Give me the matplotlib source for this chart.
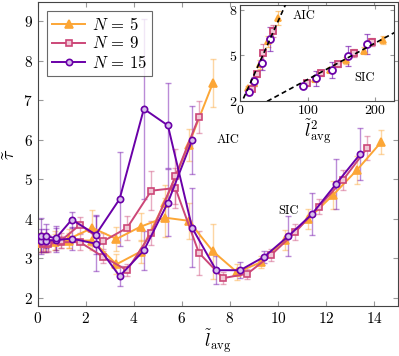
import numpy as np
import matplotlib
matplotlib.use("Agg")
import matplotlib.pyplot as plt

plt.rcParams["font.family"] = "serif"
plt.rcParams["font.serif"] = ["cmr10", "DejaVu Serif"]
plt.rcParams["mathtext.fontset"] = "cm"
plt.rcParams["axes.formatter.use_mathtext"] = True

c5, c9, c15 = "#fca636", "#cc4778", "#6a00a8"
f5, f9, f15 = "#fca636", "#f0c8d6", "#d8c2ea"  # marker fills

# ---- main panel data (l_avg, tau) ----
x5_aic = [0.10, 0.30, 0.72, 1.32, 2.28, 3.28, 4.28, 5.28, 6.28, 7.29]
y5_aic = [3.40, 3.40, 3.42, 3.45, 3.45, 2.85, 3.17, 4.40, 5.87, 7.43]
e5_aic = [0.25, 0.25, 0.20, 0.20, 0.25, 0.25, 0.30, 0.45, 0.40, 0.60]
x5_sic = [0.10, 0.30, 0.72, 1.32, 2.28, 3.28, 4.28, 5.28, 6.28, 7.29, 8.30, 9.29, 10.29, 11.27, 12.31, 13.30, 14.30]
y5_sic = [3.40, 3.40, 3.45, 3.50, 3.77, 3.49, 3.80, 4.03, 3.95, 3.18, 2.65, 2.90, 3.47, 4.00, 4.61, 5.24, 5.94]
e5_sic = [0.25, 0.25, 0.25, 0.25, 0.45, 0.30, 0.35, 0.50, 0.45, 0.70, 0.20, 0.15, 0.25, 0.25, 0.35, 0.35, 0.30]

x9_aic = [0.20, 0.41, 0.97, 1.76, 2.72, 3.72, 4.73, 5.73, 6.71]
y9_aic = [3.36, 3.36, 3.41, 3.41, 3.04, 2.70, 3.64, 5.07, 6.57]
e9_aic = [0.20, 0.20, 0.15, 0.20, 0.15, 0.15, 0.30, 0.70, 0.40]
x9_sic = [0.20, 0.41, 0.97, 1.76, 2.72, 3.72, 4.73, 5.73, 6.71, 7.72, 8.73, 9.73, 10.72, 11.71, 12.72, 13.72]
y9_sic = [3.39, 3.39, 3.45, 3.85, 3.43, 3.77, 4.71, 4.78, 3.14, 2.50, 2.61, 3.09, 3.66, 4.31, 4.99, 5.79]
e9_sic = [0.20, 0.20, 0.20, 0.20, 0.20, 0.30, 0.50, 0.50, 0.55, 0.15, 0.12, 0.15, 0.20, 0.20, 0.25, 0.30]

x15_aic = [0.12, 0.33, 0.76, 1.42, 2.42, 3.41, 4.42, 5.42, 6.43]
y15_aic = [3.45, 3.45, 3.46, 3.50, 3.37, 2.55, 3.20, 4.41, 5.99]
e15_aic = [0.30, 0.30, 0.30, 0.30, 0.70, 0.25, 0.50, 0.85, 0.86]
x15_sic = [0.12, 0.33, 0.76, 1.42, 2.42, 3.41, 4.42, 5.42, 6.43, 7.43, 8.43, 9.43, 10.43, 11.42, 12.42, 13.43]
y15_sic = [3.56, 3.56, 3.51, 3.98, 3.60, 4.50, 6.78, 6.36, 3.77, 2.70, 2.70, 3.04, 3.56, 4.12, 4.88, 5.64]
e15_sic = [0.45, 0.30, 0.30, 0.20, 0.50, 1.18, 2.27, 1.07, 1.00, 0.35, 0.20, 0.15, 0.50, 0.53, 0.64, 0.65]

# ---- inset data (l^2_avg, tau) ----
i5_x = [12, 20, 30, 42, 56.5, 110.5, 132.6, 156, 183, 211]
i5_y = [2.85, 3.20, 4.40, 5.90, 7.45, 3.45, 4.00, 4.66, 5.30, 6.00]
i5_e = [0.15, 0.20, 0.30, 0.35, 0.45, 0.20, 0.20, 0.25, 0.25, 0.25]
i9_x = [17.2, 24.6, 34.4, 48.1, 99.2, 120, 144, 168.5, 195]
i9_y = [2.80, 3.73, 5.14, 6.61, 3.15, 3.80, 4.43, 5.14, 5.86]
i9_e = [0.15, 0.20, 0.60, 0.40, 0.15, 0.20, 0.20, 0.25, 0.25]
i15_x = [13.1, 21, 31.9, 43.6, 93, 112.6, 135.6, 160, 187]
i15_y = [2.60, 3.28, 4.50, 6.04, 2.97, 3.47, 4.05, 4.94, 5.74]
i15_e = [0.20, 0.30, 0.50, 0.80, 0.15, 0.50, 0.53, 0.64, 0.65]

aic_fit_x = [0, 70]
aic_fit_y = [1.65, 8.60]
sic_fit_x = [40, 230]
sic_fit_y = [1.96, 6.53]

fig = plt.figure(figsize=(3.99, 3.56), dpi=100)
ax = fig.add_axes([0.0945, 0.141, 0.903, 0.852])

series = [
    (c15, f15, "o", "$N=15$", x15_aic, y15_aic, e15_aic, x15_sic, y15_sic, e15_sic),
    (c9, f9, "s", "$N=9$", x9_aic, y9_aic, e9_aic, x9_sic, y9_sic, e9_sic),
    (c5, f5, "^", "$N=5$", x5_aic, y5_aic, e5_aic, x5_sic, y5_sic, e5_sic),
]

handles = {}
for col, fc, mk, lab, xa, ya, ea, xs, ys, es in series[::-1]:
    for xx, yy, ee in [(xa, ya, ea), (xs, ys, es)]:
        ax.errorbar(xx, yy, yerr=ee, fmt="none", ecolor=col, alpha=0.45,
                    elinewidth=1.0, capsize=2.5, capthick=1.0, zorder=2)
        h, = ax.plot(xx, yy, color=col, marker=mk, markersize=4.5 if mk != "^" else 5.5,
                     markerfacecolor=fc, markeredgecolor=col, markeredgewidth=1.2,
                     linewidth=1.4, zorder=3)
    handles[lab] = h

ax.set_xlim(0, 15)
ax.set_ylim(1.8, 9.47)
ax.set_xticks(range(0, 15, 2))
ax.set_yticks(range(2, 10))
ax.tick_params(direction="in", top=True, right=True, labelsize=11, color="#999999", length=3.5)
for s in ax.spines.values():
    s.set_color("#444444")
    s.set_linewidth(0.8)
ax.set_xlabel(r"$\widetilde{l}_{\mathrm{avg}}$", fontsize=13, labelpad=2)
ax.set_ylabel(r"$\widetilde{\tau}$", fontsize=13, labelpad=4)
ax.text(7.45, 6.0, "AIC", fontsize=9, va="center", ha="left")
ax.text(10.0, 4.2, "SIC", fontsize=9, va="center", ha="left")

leg = ax.legend([handles["$N=5$"], handles["$N=9$"], handles["$N=15$"]],
                [r"$N\,=\,5$", r"$N\,=\,9$", r"$N\,=\,15$"], loc="upper left",
                bbox_to_anchor=(0.026, 0.972), borderaxespad=0, fontsize=12, frameon=True,
                fancybox=False, edgecolor="#444444", handlelength=2.0,
                borderpad=0.3, labelspacing=0.15, handletextpad=0.4)
leg.get_frame().set_linewidth(0.8)

# ---- inset ----
ins = fig.add_axes([0.6015, 0.717, 0.387, 0.269])
for col, fc, mk, xx, yy, ee in [(c5, f5, "^", i5_x, i5_y, i5_e), (c9, f9, "s", i9_x, i9_y, i9_e),
                                (c15, "white", "o", i15_x, i15_y, i15_e)]:
    ins.errorbar(xx, yy, yerr=ee, fmt="none", ecolor=col, alpha=0.6,
                 elinewidth=0.9, capsize=2, capthick=0.9, zorder=2)
    ins.plot(xx, yy, linestyle="none", marker=mk, markersize=5,
             markerfacecolor=fc, markeredgecolor=col, markeredgewidth=1.3, zorder=3)
ins.plot(aic_fit_x, aic_fit_y, color="black", linestyle=(0, (3, 2)), linewidth=1.2, zorder=4)
ins.plot(sic_fit_x, sic_fit_y, color="black", linestyle=(0, (3, 2)), linewidth=1.2, zorder=4)
ins.set_xlim(0, 228)
ins.set_ylim(2, 8.3)
ins.set_xticks([0, 100, 200])
ins.set_yticks([2, 5, 8])
ins.tick_params(direction="in", top=True, right=True, labelsize=10, color="#999999",
                length=3, pad=2)
for s in ins.spines.values():
    s.set_color("#444444")
    s.set_linewidth(0.8)
ins.set_xlabel(r"$\widetilde{l}^{2}_{\mathrm{avg}}$", fontsize=13, labelpad=1)
ins.text(78, 7.6, "AIC", fontsize=9, va="center")
ins.text(168, 3.5, "SIC", fontsize=9, va="center")

fig.savefig("out.png", dpi=100)
